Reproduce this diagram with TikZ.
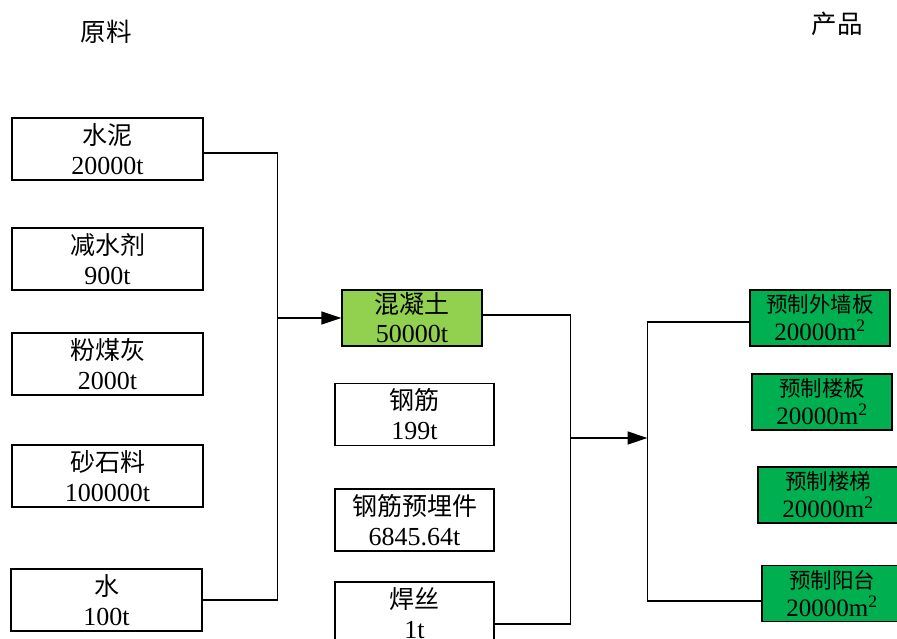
\documentclass[tikz,border=0pt]{standalone}
\usepackage{fontspec}
\setmainfont{Liberation Serif}
\newfontfamily\cjk{Noto Sans CJK SC}
\usetikzlibrary{arrows.meta}
\definecolor{concretegreen}{HTML}{92D050}
\definecolor{prodgreen}{HTML}{00B050}
\begin{document}
\begin{tikzpicture}[x=1pt,y=-1pt,
  every path/.style={line width=1.3pt},
  base/.style={draw, line width=1.3pt, inner sep=0pt, align=center},
  lbox/.style={base, minimum width=191pt, minimum height=62pt, font=\fontsize{26}{30}\selectfont},
  mbox/.style={base, minimum width=159pt, minimum height=62pt, font=\fontsize{26}{30}\selectfont},
  cbox/.style={base, fill=concretegreen, minimum width=140pt, minimum height=56pt, font=\fontsize{26}{29}\selectfont},
  pbox/.style={base, fill=prodgreen, minimum width=140pt, minimum height=56pt, font=\fontsize{25}{28}\selectfont},
  title/.style={font=\fontsize{25.5}{30}\selectfont\cjk, inner sep=0pt},
  arr/.style={-{Triangle[length=20pt,width=13pt]}}
]
\useasboundingbox (0,0) rectangle (897,639);

\node[title] (t1) at (106,32) {原料};
\node[title] (t2) at (837,24) {产品};

% raw materials
\node[lbox] (a) at (107.5,149) {{\cjk\fontsize{25}{30}\selectfont 水泥}\\20000t};
\node[lbox] (b) at (107.5,259) {{\cjk\fontsize{25}{30}\selectfont 减水剂}\\900t};
\node[lbox] (c) at (107.5,364) {{\cjk\fontsize{25}{30}\selectfont 粉煤灰}\\2000t};
\node[lbox] (d) at (107.5,476) {{\cjk\fontsize{25}{30}\selectfont 砂石料}\\100000t};
\node[lbox] (e) at (106.5,600) {{\cjk\fontsize{25}{30}\selectfont 水}\\100t};

% middle
\node[cbox] (k) at (412,318) {{\cjk\fontsize{25}{29}\selectfont 混凝土}\\50000t};
\node[mbox] (g) at (414.5,414.5) {{\cjk\fontsize{25}{30}\selectfont 钢筋}\\199t};
\node[mbox] (m) at (414.5,520) {{\cjk\fontsize{25}{30}\selectfont 钢筋预埋件}\\6845.64t};
\node[mbox] (h) at (414.5,613) {{\cjk\fontsize{25}{30}\selectfont 焊丝}\\1t};

% products
\node[pbox] (p1) at (820,318) {\raisebox{3pt}{\cjk\fontsize{21.5}{28}\selectfont 预制外墙板}\\[-3pt]20000m\textsuperscript{2}};
\node[pbox] (p2) at (822,402) {\raisebox{3pt}{\cjk\fontsize{21.5}{28}\selectfont 预制楼板}\\[-3pt]20000m\textsuperscript{2}};
\node[pbox] (p3) at (828,495) {\raisebox{3pt}{\cjk\fontsize{21.5}{28}\selectfont 预制楼梯}\\[-3pt]20000m\textsuperscript{2}};
\node[pbox] (p4) at (832,593.5) {\raisebox{3pt}{\cjk\fontsize{21.5}{28}\selectfont 预制阳台}\\[-3pt]20000m\textsuperscript{2}};

% connectors
\coordinate (j1) at (277.5,318);
\coordinate (j2) at (570.5,438);
\coordinate (j3) at (647.5,438);

\draw ([yshift=-4pt]a.east) -| (j1) |- (e.east);
\draw[arr] (j1) -- (k.west);
\draw ([yshift=3pt]k.east) -| (j2) |- ([yshift=-11pt]h.east);
\draw[arr] (j2) -- (j3);
\draw ([yshift=-4pt]p1.west) -| (j3) |- ([yshift=-7.5pt]p4.west);
\end{tikzpicture}
\end{document}
